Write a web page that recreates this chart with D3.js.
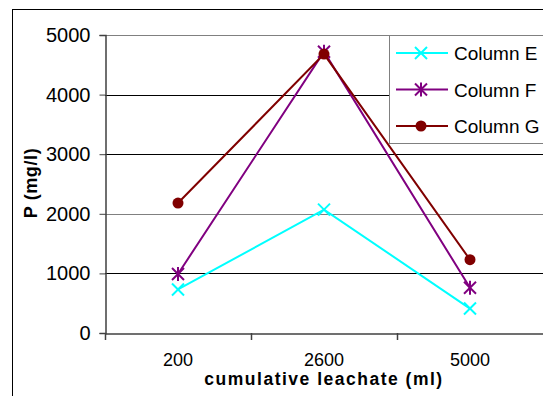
<!DOCTYPE html>
<html>
<head>
<meta charset="utf-8">
<script src="https://cdn.jsdelivr.net/npm/d3@7"></script>
<style>
  body { margin: 0; background: #fff; }
  text { font-family: Arial, "Liberation Sans", sans-serif; }
</style>
</head>
<body>
<div id="chart"></div>
<script>
// data
var categories = ["200", "2600", "5000"];
var seriesNames = ["Column E", "Column F", "Column G"];
var columnE = [730, 2070, 410];
var columnF = [990, 4720, 760];
var columnG = [2180, 4680, 1230];
var yTicks = [0, 1000, 2000, 3000, 4000, 5000];

var width = 543, height = 396;
var plot = { left: 105, top: 35, right: 543, bottom: 333 };

var svg = d3.select("#chart").append("svg")
    .attr("width", width)
    .attr("height", height);

// outer chart frame
svg.append("rect")
    .attr("x", 12.5).attr("y", 9.5)
    .attr("width", 560).attr("height", 420)
    .attr("fill", "none")
    .attr("stroke", "#000")
    .attr("stroke-width", 1);

var x = d3.scaleBand().domain(categories).range([plot.left, plot.right]);
var y = d3.scaleLinear().domain([0, 5000]).range([plot.bottom, plot.top]);

// gridlines (top one and 2000 render grey in the original)
svg.append("g")
    .selectAll("line")
    .data(yTicks.slice(1))
    .enter().append("line")
    .attr("x1", plot.left).attr("x2", plot.right)
    .attr("y1", d => Math.round(y(d)) + 0.5)
    .attr("y2", d => Math.round(y(d)) + 0.5)
    .attr("stroke", d => (d === 5000 || d === 2000) ? "#808080" : "#000")
    .attr("stroke-width", 1);

// y axis
var yAxis = svg.append("g")
    .attr("transform", "translate(" + (plot.left + 0.5) + ",0)")
    .call(d3.axisLeft(y).tickValues(yTicks).tickSize(6).tickPadding(9).tickFormat(d3.format("d")));
yAxis.select(".domain").attr("stroke", "#404040").attr("stroke-width", 1.5);
yAxis.selectAll(".tick line").attr("stroke", "#404040");
yAxis.selectAll("text").style("font-size", "20px").attr("fill", "#000");

// x axis
var xAxis = svg.append("g")
    .attr("transform", "translate(0," + (plot.bottom + 0.5) + ")")
    .call(d3.axisBottom(x).tickSize(0).tickPadding(20));
xAxis.select(".domain").attr("stroke", "#404040").attr("stroke-width", 1.5);
xAxis.selectAll("text").style("font-size", "18px").attr("fill", "#000");

// category separator ticks
svg.append("g")
    .selectAll("line")
    .data(categories)
    .enter().append("line")
    .attr("x1", d => Math.round(x(d)) + 0.5)
    .attr("x2", d => Math.round(x(d)) + 0.5)
    .attr("y1", plot.bottom)
    .attr("y2", plot.bottom + 7)
    .attr("stroke", "#404040")
    .attr("stroke-width", 1.5);

// axis titles
svg.append("text")
    .attr("x", 324).attr("y", 385)
    .attr("text-anchor", "middle")
    .style("font-size", "17.5px")
    .style("font-weight", "bold")
    .style("letter-spacing", "1.5px")
    .text("cumulative leachate (ml)");

svg.append("text")
    .attr("transform", "translate(37,183) rotate(-90)")
    .attr("text-anchor", "middle")
    .style("font-size", "18px")
    .style("font-weight", "bold")
    .style("letter-spacing", "0.6px")
    .text("P (mg/l)");

var series = [
  { name: seriesNames[0], values: columnE, color: "#00FFFF", marker: "x" },
  { name: seriesNames[1], values: columnF, color: "#800080", marker: "star" },
  { name: seriesNames[2], values: columnG, color: "#800000", marker: "circle" }
];

var line = d3.line()
    .x((d, i) => x(categories[i]) + x.bandwidth() / 2)
    .y(d => y(d));

function drawMarker(g, type, color) {
  if (type === "circle") {
    g.append("circle").attr("r", 5.5).attr("fill", color);
  } else {
    var s = 6;
    g.append("line").attr("x1", -s).attr("y1", -s).attr("x2", s).attr("y2", s)
      .attr("stroke", color).attr("stroke-width", 2);
    g.append("line").attr("x1", -s).attr("y1", s).attr("x2", s).attr("y2", -s)
      .attr("stroke", color).attr("stroke-width", 2);
    if (type === "star") {
      g.append("line").attr("x1", 0).attr("y1", -s - 1).attr("x2", 0).attr("y2", s + 1)
        .attr("stroke", color).attr("stroke-width", 2);
    }
  }
}

series.forEach(function (s) {
  svg.append("path")
      .datum(s.values)
      .attr("d", line)
      .attr("fill", "none")
      .attr("stroke", s.color)
      .attr("stroke-width", 2);
  s.values.forEach(function (v, i) {
    var g = svg.append("g")
        .attr("transform", "translate(" + (x(categories[i]) + x.bandwidth() / 2) + "," + y(v) + ")");
    drawMarker(g, s.marker, s.color);
  });
});

// legend
var legend = svg.append("g");
legend.append("rect")
    .attr("x", 389.5).attr("y", 35.5)
    .attr("width", 170).attr("height", 108)
    .attr("fill", "#fff")
    .attr("stroke", "#808080")
    .attr("stroke-width", 1);

series.forEach(function (s, i) {
  var ly = 53 + i * 36.5;
  legend.append("line")
      .attr("x1", 396).attr("x2", 448)
      .attr("y1", ly).attr("y2", ly)
      .attr("stroke", s.color).attr("stroke-width", 2);
  drawMarker(legend.append("g").attr("transform", "translate(421," + ly + ")"), s.marker, s.color);
  legend.append("text")
      .attr("x", 454).attr("y", ly + 7)
      .style("font-size", "19px")
      .text(s.name);
});
</script>
</body>
</html>
